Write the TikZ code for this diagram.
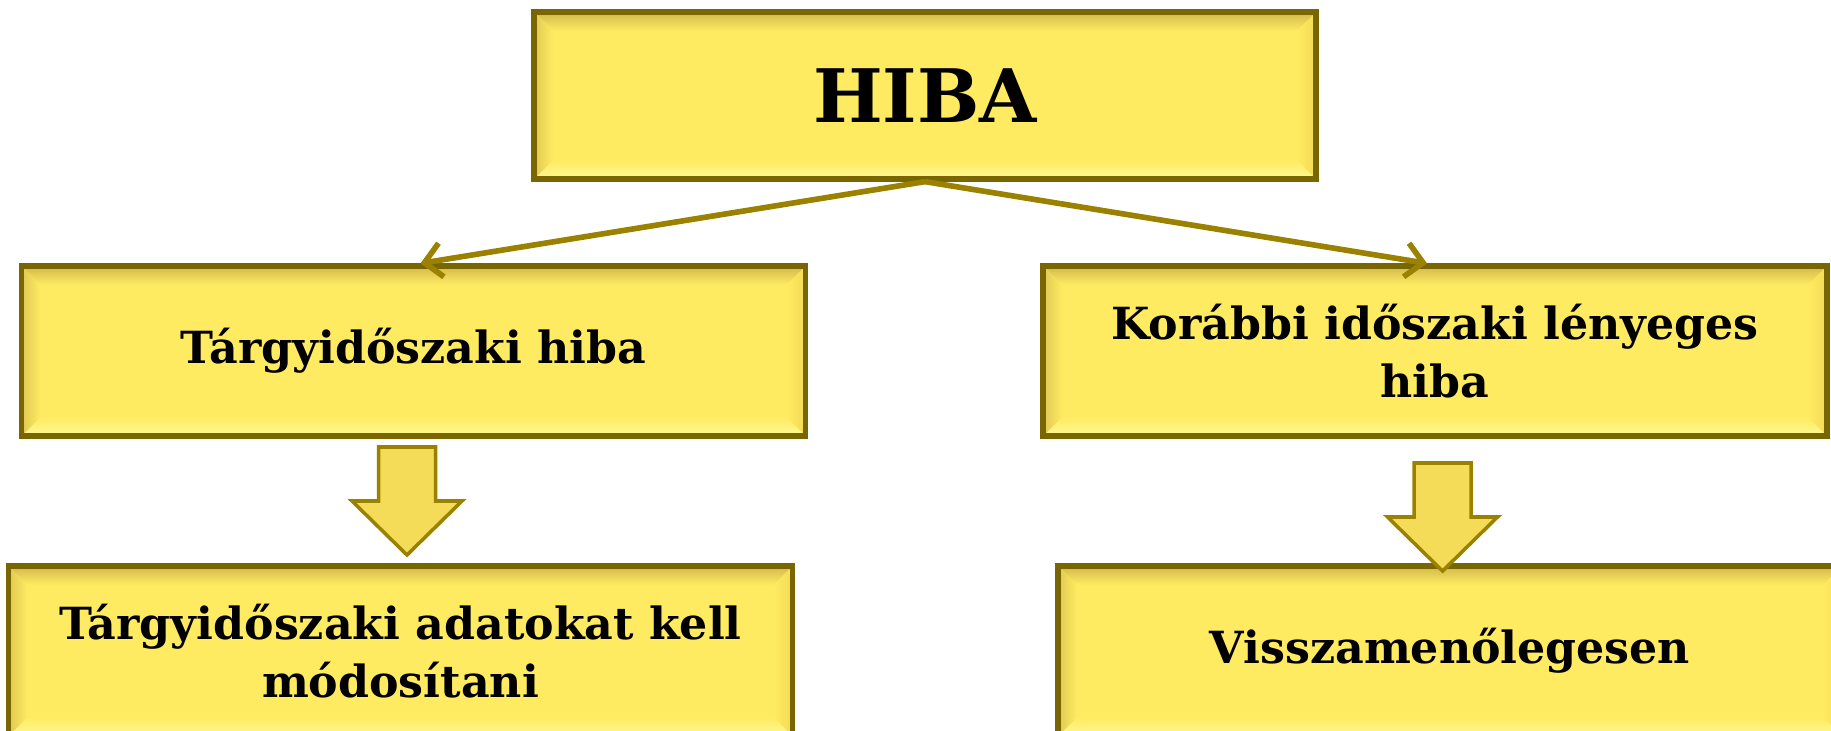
\documentclass[tikz,border=0pt]{standalone}
\usepackage{fontspec}
\setmainfont{DejaVu Serif}
\usetikzlibrary{arrows.meta}

\definecolor{boxfill}{HTML}{FFEB62}
\definecolor{boxline}{HTML}{7A6600}
\definecolor{bevtop}{HTML}{D2B84A}
\definecolor{bevlow}{HTML}{FFF994}
\definecolor{bevside}{HTML}{F3DA55}
\definecolor{linkcol}{HTML}{9A8200}
\definecolor{arrfill}{HTML}{F4DC58}

\newcommand{\bevw}{0.19}

\tikzset{
  bevelbox/.style={draw=boxline, line width=1.5pt, fill=boxfill,
    minimum width=7.84cm, minimum height=1.70cm, align=center,
    font=\bfseries\fontsize{12.6}{16.5}\selectfont,
    path picture={
      \coordinate (pa) at (path picture bounding box.north west);
      \coordinate (pb) at (path picture bounding box.north east);
      \coordinate (pc) at (path picture bounding box.south east);
      \coordinate (pd) at (path picture bounding box.south west);
      \shade[top color=bevtop, bottom color=boxfill]
        (pa) -- (pb) -- ([shift={(-\bevw,-\bevw)}]pb) -- ([shift={(\bevw,-\bevw)}]pa) -- cycle;
      \shade[top color=boxfill, bottom color=bevlow]
        (pd) -- (pc) -- ([shift={(-\bevw,\bevw)}]pc) -- ([shift={(\bevw,\bevw)}]pd) -- cycle;
      \shade[left color=bevtop!70!boxfill, right color=boxfill]
        (pa) -- (pd) -- ([shift={(\bevw,\bevw)}]pd) -- ([shift={(\bevw,-\bevw)}]pa) -- cycle;
      \shade[left color=boxfill, right color=bevside]
        (pb) -- (pc) -- ([shift={(-\bevw,\bevw)}]pc) -- ([shift={(-\bevw,-\bevw)}]pb) -- cycle;
    }},
  link/.style={draw=linkcol, line width=1.6pt,
    -{Straight Barb[length=0.17cm, width=0.34cm]}},
  blockarrow/.style={draw=linkcol, line width=1pt, fill=arrfill, line join=miter}
}

\begin{document}
\begin{tikzpicture}
  \path[use as bounding box] (0,0) rectangle (18.31,-7.31);
  \clip (0,0) rectangle (18.31,-7.31);

  % boxes
  \node[bevelbox, minimum width=7.82cm, minimum height=1.67cm,
        font=\bfseries\fontsize{21}{25}\selectfont] (hiba) at (9.25,-0.955) {HIBA};
  \node[bevelbox] (targy)   at (4.135,-3.51) {Tárgyidőszaki hiba};
  \node[bevelbox] (korabbi) at (14.35,-3.51) {Korábbi időszaki lényeges\\hiba};
  \node[bevelbox] (modosit) at (4.005,-6.51) {Tárgyidőszaki adatokat kell\\módosítani};
  \node[bevelbox] (vissza)  at (14.50,-6.51) {Visszamenőlegesen};

  % connectors
  \draw[link] (hiba.south) -- ([xshift=0.07cm]targy.north);
  \draw[link] (hiba.south) -- ([xshift=-0.08cm]korabbi.north);

  % block arrows
  \foreach \x/\y in {4.07/4.47, 14.425/4.63}
    \draw[blockarrow] (\x-0.285,-\y) -- (\x+0.285,-\y) -- (\x+0.285,-\y-0.54)
      -- (\x+0.55,-\y-0.54) -- (\x,-\y-1.08) -- (\x-0.55,-\y-0.54)
      -- (\x-0.285,-\y-0.54) -- cycle;
\end{tikzpicture}
\end{document}
